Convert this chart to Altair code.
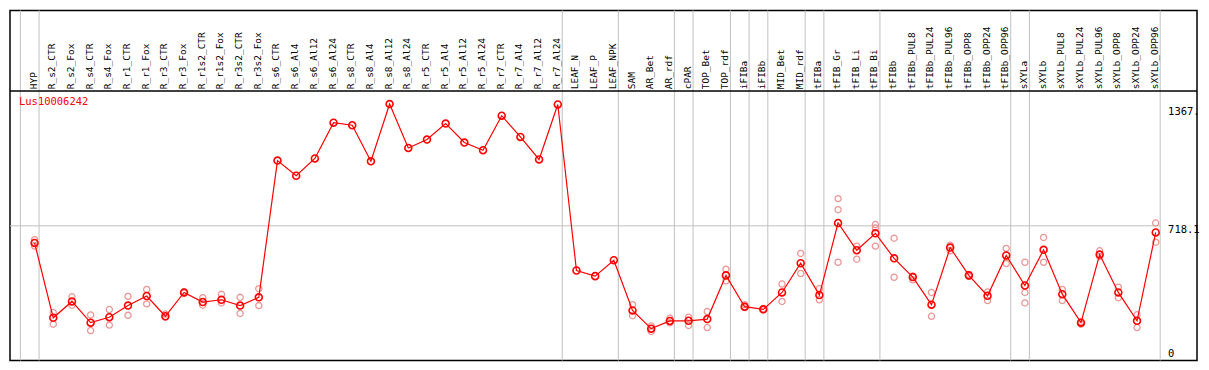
import altair as alt
import pandas as pd

# ---------------- data ----------------
categories = [
    "HYP", "R_s2_CTR", "R_s2_Fox", "R_s4_CTR", "R_s4_Fox", "R_r1_CTR", "R_r1_Fox",
    "R_r3_CTR", "R_r3_Fox", "R_r1s2_CTR", "R_r1s2_Fox", "R_r3s2_CTR", "R_r3s2_Fox",
    "R_s6_CTR", "R_s6_Al4", "R_s6_Al12", "R_s6_Al24", "R_s8_CTR", "R_s8_Al4",
    "R_s8_Al12", "R_s8_Al24", "R_r5_CTR", "R_r5_Al4", "R_r5_Al12", "R_r5_Al24",
    "R_r7_CTR", "R_r7_Al4", "R_r7_Al12", "R_r7_Al24", "LEAF_N", "LEAF_P", "LEAF_NPK",
    "SAM", "AR_Bet", "AR_rdf", "cPAR", "TOP_Bet", "TOP_rdf", "iFIBa", "iFIBb",
    "MID_Bet", "MID_rdf", "tFIBa", "tFIB_Gr", "tFIB_Li", "tFIB_Bi", "tFIBb",
    "tFIBb_PUL8", "tFIBb_PUL24", "tFIBb_PUL96", "tFIBb_OPP8", "tFIBb_OPP24",
    "tFIBb_OPP96", "sXYLa", "sXYLb", "sXYLb_PUL8", "sXYLb_PUL24", "sXYLb_PUL96",
    "sXYLb_OPP8", "sXYLb_OPP24", "sXYLb_OPP96",
]

means = [
    627, 228, 315, 202, 231, 293, 344, 236, 363, 312, 324, 293, 337,
    1066, 985, 1077, 1268, 1254, 1062, 1367, 1133, 1178, 1263, 1162, 1121,
    1305, 1192, 1072, 1365, 480, 450, 535,
    267, 170, 211, 212, 221, 454, 287, 273, 363, 519, 349,
    733, 588, 678, 545, 445, 298, 602, 454, 345, 560,
    400, 590, 354, 202, 565, 363, 212, 683,
]

replicates = [
    [644, 610], [256, 194], [340, 295], [243, 160], [272, 189], [342, 241], [379, 302],
    [248, 231], [366, 359], [335, 295], [353, 307], [337, 251], [383, 293],
    [], [], [], [], [], [], [], [], [], [], [], [],
    [], [], [], [], [], [], [],
    [298, 239], [184, 155], [226, 201], [231, 187], [261, 176], [487, 425],
    [298, 282], [276, 270], [408, 315], [571, 464], [383, 324],
    [863, 804, 524], [610, 540], [725, 707, 610], [652, 444],
    [450, 430], [363, 236], [615, 585], [459, 449], [366, 320], [598, 517],
    [524, 363, 307], [656, 524], [379, 320], [206, 194], [585, 555],
    [391, 335], [244, 176], [733, 631],
]

separator_after = [-1, 0, 28, 31, 34, 35, 37, 38, 39, 41, 42, 45, 52, 53, 60]
gene_name = "Lus10006242"
ref_value = 718.1
top_value = 1436.2
axis_labels = ["1367.", "718.1", "0"]
axis_values = [1367.4, 718.1, 0.0]

# ---------------- tables ----------------
idx = list(range(len(categories)))
df_main = pd.DataFrame({"i": idx, "cat": categories, "v": means})
rep_rows = [{"i": i, "v": r} for i, reps in enumerate(replicates) for r in reps]
df_rep = pd.DataFrame(rep_rows)
df_sep = pd.DataFrame({"x": [s + 0.24 for s in separator_after]})

W, H = 1190, 351
X_MIN, X_MAX = -1.316, 62.21
Y_MAX = top_value * 369.0 / 284.0

xs = alt.Scale(domain=[X_MIN, X_MAX], nice=False, zero=False)
ys = alt.Scale(domain=[0, Y_MAX], nice=False, zero=True)

GRAY = "#c0c0c0"
FONT = "DejaVu Sans Mono"

seps = alt.Chart(df_sep).mark_rule(color=GRAY, strokeWidth=1).encode(
    x=alt.X("x:Q", scale=xs, axis=None),
    y=alt.value(0),
    y2=alt.value(H),
)

hline = alt.Chart(pd.DataFrame({"x0": [X_MIN], "x1": [separator_after[-1] + 0.24], "y": [ref_value]})).mark_rule(
    color=GRAY, strokeWidth=1
).encode(
    x=alt.X("x0:Q", scale=xs, axis=None),
    x2="x1:Q",
    y=alt.Y("y:Q", scale=ys, axis=None),
)

header_line = alt.Chart(pd.DataFrame({"y": [top_value]})).mark_rule(color="black", strokeWidth=1.5).encode(
    x=alt.value(0),
    x2=alt.value(W),
    y=alt.Y("y:Q", scale=ys, axis=None),
)

cat_labels = alt.Chart(df_main).mark_text(
    angle=270, align="left", baseline="middle", font=FONT, fontSize=9.5, color="black", dy=-1
).encode(
    x=alt.X("i:Q", scale=xs, axis=None),
    y=alt.value(79),
    text="cat:N",
)

reps = alt.Chart(df_rep).mark_point(
    shape="circle", filled=False, size=38, color="#eb9696", strokeWidth=1.3, opacity=1
).encode(
    x=alt.X("i:Q", scale=xs, axis=None),
    y=alt.Y("v:Q", scale=ys, axis=None),
)

line = alt.Chart(df_main).mark_line(color="#ff0000", strokeWidth=1.2).encode(
    x=alt.X("i:Q", scale=xs, axis=None),
    y=alt.Y("v:Q", scale=ys, axis=None),
)

pts = alt.Chart(df_main).mark_point(
    shape="circle", filled=False, size=48, color="#ff0000", strokeWidth=1.6, opacity=1
).encode(
    x=alt.X("i:Q", scale=xs, axis=None),
    y=alt.Y("v:Q", scale=ys, axis=None),
)

gene_text = alt.Chart(pd.DataFrame({"t": [gene_name]})).mark_text(
    align="left", baseline="middle", font=FONT, fontSize=10.5, color="#ff0000"
).encode(
    x=alt.value(9),
    y=alt.value(92),
    text="t:N",
)

offsets = [8, 4, -7]
val_labels = []
for lab, val, off in zip(axis_labels, axis_values, offsets):
    val_labels.append(
        alt.Chart(pd.DataFrame({"t": [lab], "v": [val]})).mark_text(
            align="left", baseline="middle", font=FONT, fontSize=10.5, color="black", dy=off
        ).encode(
            x=alt.value(1161),
            y=alt.Y("v:Q", scale=ys, axis=None),
            text="t:N",
        )
    )

chart = alt.layer(
    seps, hline, header_line, cat_labels, reps, line, pts, gene_text, *val_labels
).properties(
    width=W, height=H, padding=1
).configure_view(
    stroke="black", strokeWidth=1.5
)

chart.save("out.html", embed_options={"renderer": "svg", "actions": False})
